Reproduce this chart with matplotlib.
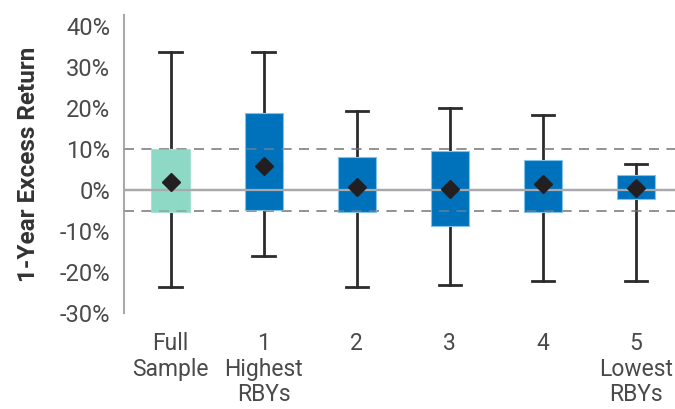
import matplotlib
matplotlib.use("Agg")
import matplotlib.pyplot as plt

# box statistics (percent)
labels = ["Full\nSample", "1\nHighest\nRBYs", "2", "3", "4", "5\nLowest\nRBYs"]
whisker_hi = [33.7, 33.7, 19.3, 19.9, 18.2, 6.3]
box_hi = [10.1, 18.7, 8.0, 9.5, 7.4, 3.7]
box_lo = [-5.3, -4.9, -5.4, -8.7, -5.4, -2.3]
whisker_lo = [-23.7, -16.1, -23.7, -23.2, -22.2, -22.2]
means = [1.9, 5.9, 0.7, 0.2, 1.5, 0.6]
band = [10.0, -5.0]

box_colors = ["#8dd9c6", "#0072bc", "#0072bc", "#0072bc", "#0072bc", "#0072bc"]
edge_colors = ["#a6e3d4", "#7fc3ea", "#7fc3ea", "#7fc3ea", "#7fc3ea", "#7fc3ea"]

plt.rcParams['font.family'] = ['Roboto', 'DejaVu Sans']

fig = plt.figure(figsize=(6.75, 4.09), dpi=100)
ax = fig.add_axes([0.1837, 0.2347, 0.8163, 0.7286])

stats = []
for i in range(len(labels)):
    stats.append(dict(whislo=whisker_lo[i], q1=box_lo[i], med=means[i],
                      q3=box_hi[i], whishi=whisker_hi[i], mean=means[i],
                      label=labels[i]))

# reference lines behind the boxes
ax.axhline(0, color="#a7a9ac", lw=1.6, zorder=1)
for b in band:
    ax.axhline(b, color="#8c8c8c", lw=1.2, ls=(0, (6, 4.5)), zorder=1)

bp = ax.bxp(stats, positions=range(len(labels)), widths=0.41,
            showfliers=False, showmeans=True, patch_artist=True,
            boxprops=dict(linewidth=0.8),
            whiskerprops=dict(color="#2b2b2b", linewidth=2),
            capprops=dict(color="#2b2b2b", linewidth=2),
            capwidths=0.24,
            medianprops=dict(visible=False),
            meanprops=dict(marker="D", markerfacecolor="#231f20",
                           markeredgecolor="#231f20", markersize=9))
for patch, c, e in zip(bp["boxes"], box_colors, edge_colors):
    patch.set_facecolor(c)
    patch.set_edgecolor(e)
    patch.set_zorder(3)
for w in bp["whiskers"] + bp["caps"]:
    w.set_zorder(2)
for m in bp["means"]:
    m.set_zorder(4)

# the zero line runs over the boxes too
ax.axhline(0, color="#a7a9ac", lw=1.6, zorder=3.5)
for b in band:
    ax.axhline(b, color="#8c8c8c", lw=1.2, ls=(0, (6, 4.5)), zorder=3.5, alpha=0.6)

ax.set_xlim(-0.5, 5.42)
ax.set_ylim(-30, 42.7)
ax.set_yticks(range(-30, 41, 10))
ax.set_yticklabels([f"{v}%" for v in range(-30, 41, 10)])
ax.set_xticks(range(len(labels)))
ax.set_xticklabels(labels, linespacing=1.12, fontsize=16.5)

ax.tick_params(axis="both", length=0, colors="#4a4a4a")
ax.tick_params(axis="y", labelsize=17, pad=10)
ax.tick_params(axis="x", pad=14)

for s in ["top", "right", "bottom"]:
    ax.spines[s].set_visible(False)
ax.spines["left"].set_color("#a7a9ac")
ax.spines["left"].set_linewidth(1.5)

ax.set_ylabel("1-Year Excess Return", fontsize=17.5, fontweight="bold",
              color="#333333", labelpad=14)

fig.savefig("out.png", dpi=100)
